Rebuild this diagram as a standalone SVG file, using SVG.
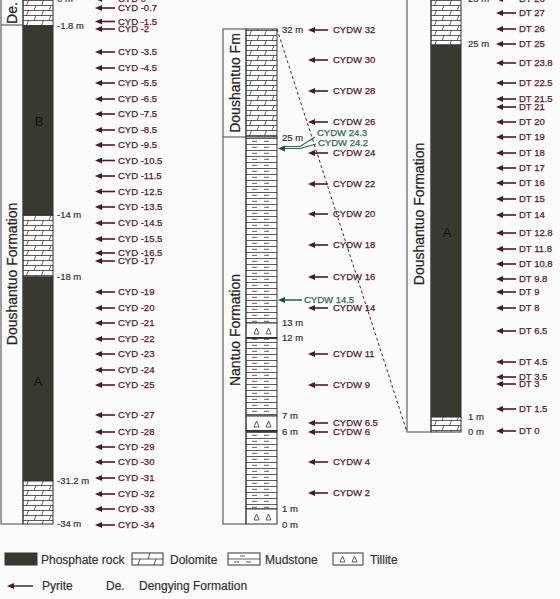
<svg xmlns="http://www.w3.org/2000/svg" width="560" height="599" viewBox="0 0 560 599">
<style>
.lbl{font-family:"Liberation Sans",Arial,sans-serif;font-size:9.5px;fill:#55202c;stroke:#55202c;stroke-width:0.25px}
.grn{font-family:"Liberation Sans",Arial,sans-serif;font-size:9.5px;fill:#2f6a4c;stroke:#2f6a4c;stroke-width:0.25px}
.dep{font-family:"Liberation Sans",Arial,sans-serif;font-size:9.5px;fill:#333;stroke:#333;stroke-width:0.2px}
.fm{font-family:"Liberation Sans",Arial,sans-serif;font-size:14px;fill:#222;stroke:#222;stroke-width:0.2px}
.unit{font-family:"Liberation Sans",Arial,sans-serif;font-size:13px;fill:#151512}
.leg{font-family:"Liberation Sans",Arial,sans-serif;font-size:12px;fill:#333;stroke:#333;stroke-width:0.2px}
.box{fill:none;stroke:#444;stroke-width:1}
.ph{fill:#3a3930;stroke:#333;stroke-width:1}
.dol{fill:url(#dolo);stroke:#333;stroke-width:1}
.mud{fill:url(#mud);stroke:#333;stroke-width:1}
.til{fill:#fff;stroke:#333;stroke-width:1}
.ar line{stroke:#4a1a26;stroke-width:1.6;marker-end:url(#ah)}
.tri{fill:none;stroke:#333;stroke-width:0.8}
</style>
<defs>
<pattern id="dolo" patternUnits="userSpaceOnUse" width="15" height="10">
<rect width="15" height="10" fill="#fff"/>
<path d="M0,0.5H15M0,5.5H15M3.5,5.5L5.5,0.5M11,10.5L13,5.5" stroke="#333" stroke-width="0.8" fill="none"/>
</pattern>
<pattern id="mud" patternUnits="userSpaceOnUse" width="31" height="6">
<rect width="31" height="6" fill="#fff"/>
<path d="M0,0.5H31M6,3.3H11M18,3.3H23" stroke="#333" stroke-width="0.8" fill="none"/>
</pattern>
<marker id="ah" markerUnits="userSpaceOnUse" markerWidth="7" markerHeight="6" viewBox="0 0 7 6" refX="1" refY="3" orient="auto">
<path d="M0,0L7,3L0,6z" fill="#4a1a26"/>
</marker>
<marker id="ahg" markerUnits="userSpaceOnUse" markerWidth="7" markerHeight="6" viewBox="0 0 7 6" refX="1" refY="3" orient="auto">
<path d="M0,0L7,3L0,6z" fill="#1f4d36"/>
</marker>
</defs>
<rect width="560" height="599" fill="#fbfbfb"/>

<g id="left-section">
<g transform="translate(23,0)">
<rect class="dol" x="0" y="-5" width="30" height="31"/>
<rect class="ph" x="0" y="26" width="30" height="189"/>
<rect class="dol" x="0" y="215" width="30" height="62"/>
<rect class="ph" x="0" y="277" width="30" height="204"/>
<rect class="dol" x="0" y="481" width="30" height="43"/>
</g>
<rect class="box" x="1" y="-5" width="22" height="529"/>
<line x1="1" y1="25" x2="23" y2="25" stroke="#444"/>
<text class="fm" transform="translate(17,13) rotate(-90)" text-anchor="middle">De.</text>
<text class="fm" transform="translate(17,274) rotate(-90)" text-anchor="middle">Doushantuo Formation</text>
<text class="unit" x="39" y="126" text-anchor="middle">B</text>
<text class="unit" x="38" y="386" text-anchor="middle">A</text>
<g class="dep">
<text x="57" y="2.4">0 m</text>
<text x="57" y="29.4">-1.8 m</text>
<text x="57" y="218.4">-14 m</text>
<text x="57" y="280.4">-18 m</text>
<text x="57" y="484.4">-31.2 m</text>
<text x="57" y="527.4">-34 m</text>
</g>
</g>

<g id="middle-section">
<g transform="translate(246,0)">
<rect class="dol" x="0" y="29" width="31" height="108"/>
<rect class="mud" x="0" y="137" width="31" height="186"/>
<rect class="til" x="0" y="323" width="31" height="15"/>
<rect class="mud" x="0" y="338" width="31" height="78"/>
<rect class="til" x="0" y="416" width="31" height="15"/>
<rect class="mud" x="0" y="431" width="31" height="78"/>
<rect class="til" x="0" y="509" width="31" height="15"/>
<line x1="0" y1="338" x2="31" y2="338" stroke="#222" stroke-width="1.6"/>
<line x1="0" y1="431" x2="31" y2="431" stroke="#222" stroke-width="1.6"/>
<path class="tri" d="M8,334L10.5,328L13,334zM20,334L22.5,328L25,334zM8,427L10.5,421L13,427zM20,427L22.5,421L25,427zM8,520L10.5,514L13,520zM20,520L22.5,514L25,520z"/>
</g>
<rect class="box" x="223" y="29" width="23" height="495"/>
<line x1="223" y1="137" x2="246" y2="137" stroke="#444"/>
<text class="fm" transform="translate(240,83) rotate(-90)" text-anchor="middle">Doushantuo Fm</text>
<text class="fm" transform="translate(240,330) rotate(-90)" text-anchor="middle">Nantuo Formation</text>
<g class="dep">
<text x="282" y="33.4">32 m</text>
<text x="282" y="141.4">25 m</text>
<text x="282" y="326.4">13 m</text>
<text x="282" y="341.4">12 m</text>
<text x="282" y="419.4">7 m</text>
<text x="282" y="435.4">6 m</text>
<text x="282" y="512.4">1 m</text>
<text x="282" y="528.4">0 m</text>
</g>
</g>

<g id="right-section">
<g transform="translate(431,0)">
<rect class="dol" x="0" y="-5" width="30" height="50"/>
<rect class="ph" x="0" y="45" width="30" height="372"/>
<rect class="dol" x="0" y="417" width="30" height="15"/>
</g>
<rect class="box" x="407" y="-5" width="24" height="437"/>
<text class="fm" transform="translate(424,214) rotate(-90)" text-anchor="middle">Doushantuo Formation</text>
<text class="unit" x="447" y="237" text-anchor="middle">A</text>
<g class="dep">
<text x="468" y="2.4">28 m</text>
<text x="468" y="47.4">25 m</text>
<text x="468" y="420.4">1 m</text>
<text x="468" y="435.4">0 m</text>
</g>
</g>

<g id="connectors">
<line x1="277" y1="29" x2="407" y2="432" stroke="#333" stroke-width="1" stroke-dasharray="3,2.5"/>
<g class="ar">
<line x1="115" y1="-1" x2="101" y2="-1"/><line x1="115" y1="8" x2="101" y2="8"/><line x1="115" y1="21.5" x2="101" y2="21.5"/><line x1="115" y1="29" x2="101" y2="29"/>
<line x1="115" y1="52" x2="101" y2="52"/><line x1="115" y1="68" x2="101" y2="68"/><line x1="115" y1="83" x2="101" y2="83"/><line x1="115" y1="99" x2="101" y2="99"/>
<line x1="115" y1="114" x2="101" y2="114"/><line x1="115" y1="130" x2="101" y2="130"/><line x1="115" y1="145" x2="101" y2="145"/><line x1="115" y1="160.5" x2="101" y2="160.5"/>
<line x1="115" y1="176" x2="101" y2="176"/><line x1="115" y1="191.5" x2="101" y2="191.5"/><line x1="115" y1="207" x2="101" y2="207"/><line x1="115" y1="223" x2="101" y2="223"/>
<line x1="115" y1="239" x2="101" y2="239"/><line x1="115" y1="253" x2="101" y2="253"/><line x1="115" y1="261" x2="101" y2="261"/><line x1="115" y1="292" x2="101" y2="292"/>
<line x1="115" y1="308" x2="101" y2="308"/><line x1="115" y1="323" x2="101" y2="323"/><line x1="115" y1="339" x2="101" y2="339"/><line x1="115" y1="354" x2="101" y2="354"/>
<line x1="115" y1="370" x2="101" y2="370"/><line x1="115" y1="385" x2="101" y2="385"/><line x1="115" y1="415" x2="101" y2="415"/><line x1="115" y1="432" x2="101" y2="432"/>
<line x1="115" y1="447" x2="101" y2="447"/><line x1="115" y1="462" x2="101" y2="462"/><line x1="115" y1="478" x2="101" y2="478"/><line x1="115" y1="494" x2="101" y2="494"/>
<line x1="115" y1="509" x2="101" y2="509"/><line x1="115" y1="525" x2="101" y2="525"/>

<line x1="328" y1="30" x2="314" y2="30"/><line x1="328" y1="60" x2="314" y2="60"/><line x1="328" y1="91" x2="314" y2="91"/><line x1="328" y1="122" x2="314" y2="122"/>
<line x1="328" y1="153" x2="314" y2="153"/><line x1="328" y1="184" x2="314" y2="184"/><line x1="328" y1="214" x2="314" y2="214"/><line x1="328" y1="245" x2="314" y2="245"/>
<line x1="328" y1="277" x2="314" y2="277"/><line x1="328" y1="308" x2="314" y2="308"/><line x1="328" y1="354" x2="314" y2="354"/><line x1="328" y1="385" x2="314" y2="385"/>
<line x1="328" y1="423" x2="314" y2="423"/><line x1="328" y1="432" x2="314" y2="432"/><line x1="328" y1="462" x2="314" y2="462"/><line x1="328" y1="493" x2="314" y2="493"/>

<line x1="516" y1="-1" x2="502" y2="-1"/><line x1="516" y1="13" x2="502" y2="13"/><line x1="516" y1="29" x2="502" y2="29"/><line x1="516" y1="44" x2="502" y2="44"/>
<line x1="516" y1="63" x2="502" y2="63"/><line x1="516" y1="83" x2="502" y2="83"/><line x1="516" y1="99" x2="502" y2="99"/><line x1="516" y1="107" x2="502" y2="107"/>
<line x1="516" y1="122" x2="502" y2="122"/><line x1="516" y1="137" x2="502" y2="137"/><line x1="516" y1="153" x2="502" y2="153"/><line x1="516" y1="168" x2="502" y2="168"/>
<line x1="516" y1="183" x2="502" y2="183"/><line x1="516" y1="199" x2="502" y2="199"/><line x1="516" y1="215" x2="502" y2="215"/><line x1="516" y1="233" x2="502" y2="233"/>
<line x1="516" y1="249" x2="502" y2="249"/><line x1="516" y1="264" x2="502" y2="264"/><line x1="516" y1="279" x2="502" y2="279"/><line x1="516" y1="292" x2="502" y2="292"/>
<line x1="516" y1="308" x2="502" y2="308"/><line x1="516" y1="331" x2="502" y2="331"/><line x1="516" y1="362" x2="502" y2="362"/><line x1="516" y1="377" x2="502" y2="377"/>
<line x1="516" y1="384" x2="502" y2="384"/><line x1="516" y1="409" x2="502" y2="409"/><line x1="516" y1="431" x2="502" y2="431"/>
</g>
<g fill="none" stroke="#2f6a4c" stroke-width="1.2">
<path d="M315,137L300,146.5H284"/>
<path d="M316,144L300,148.5H284" marker-end="url(#ahg)"/>
<path d="M302,300H284" stroke-width="1.6" marker-end="url(#ahg)"/>
</g>
</g>

<g id="labels">
<g class="lbl">
<text x="118" y="2.4">CYD 0</text><text x="118" y="11.4">CYD -0.7</text><text x="118" y="24.9">CYD -1.5</text><text x="118" y="32.4">CYD -2</text>
<text x="118" y="55.4">CYD -3.5</text><text x="118" y="71.4">CYD -4.5</text><text x="118" y="86.4">CYD -5.5</text><text x="118" y="102.4">CYD -6.5</text>
<text x="118" y="117.4">CYD -7.5</text><text x="118" y="133.4">CYD -8.5</text><text x="118" y="148.4">CYD -9.5</text><text x="118" y="163.9">CYD -10.5</text>
<text x="118" y="179.4">CYD -11.5</text><text x="118" y="194.9">CYD -12.5</text><text x="118" y="210.4">CYD -13.5</text><text x="118" y="226.4">CYD -14.5</text>
<text x="118" y="242.4">CYD -15.5</text><text x="118" y="256.4">CYD -16.5</text><text x="118" y="264.4">CYD -17</text><text x="118" y="295.4">CYD -19</text>
<text x="118" y="311.4">CYD -20</text><text x="118" y="326.4">CYD -21</text><text x="118" y="342.4">CYD -22</text><text x="118" y="357.4">CYD -23</text>
<text x="118" y="373.4">CYD -24</text><text x="118" y="388.4">CYD -25</text><text x="118" y="418.4">CYD -27</text><text x="118" y="435.4">CYD -28</text>
<text x="118" y="450.4">CYD -29</text><text x="118" y="465.4">CYD -30</text><text x="118" y="481.4">CYD -31</text><text x="118" y="497.4">CYD -32</text>
<text x="118" y="512.4">CYD -33</text><text x="118" y="528.4">CYD -34</text>

<text x="333" y="33.4">CYDW 32</text><text x="333" y="63.4">CYDW 30</text><text x="333" y="94.4">CYDW 28</text><text x="333" y="125.4">CYDW 26</text>
<text x="333" y="156.4">CYDW 24</text><text x="333" y="187.4">CYDW 22</text><text x="333" y="217.4">CYDW 20</text><text x="333" y="248.4">CYDW 18</text>
<text x="333" y="280.4">CYDW 16</text><text x="333" y="311.4">CYDW 14</text><text x="333" y="357.4">CYDW 11</text><text x="333" y="388.4">CYDW 9</text>
<text x="333" y="426.4">CYDW 6.5</text><text x="333" y="435.4">CYDW 6</text><text x="333" y="465.4">CYDW 4</text><text x="333" y="496.4">CYDW 2</text>

<text x="519" y="2.4">DT 28</text><text x="519" y="16.4">DT 27</text><text x="519" y="32.4">DT 26</text><text x="519" y="47.4">DT 25</text>
<text x="519" y="66.4">DT 23.8</text><text x="519" y="86.4">DT 22.5</text><text x="519" y="102.4">DT 21.5</text><text x="519" y="110.4">DT 21</text>
<text x="519" y="125.4">DT 20</text><text x="519" y="140.4">DT 19</text><text x="519" y="156.4">DT 18</text><text x="519" y="171.4">DT 17</text>
<text x="519" y="186.4">DT 16</text><text x="519" y="202.4">DT 15</text><text x="519" y="218.4">DT 14</text><text x="519" y="236.4">DT 12.8</text>
<text x="519" y="252.4">DT 11.8</text><text x="519" y="267.4">DT 10.8</text><text x="519" y="282.4">DT 9.8</text><text x="519" y="295.4">DT 9</text>
<text x="519" y="311.4">DT 8</text><text x="519" y="334.4">DT 6.5</text><text x="519" y="365.4">DT 4.5</text><text x="519" y="380.4">DT 3.5</text>
<text x="519" y="387.4">DT 3</text><text x="519" y="412.4">DT 1.5</text><text x="519" y="434.4">DT 0</text>
</g>
<g class="grn">
<text x="317" y="136.4">CYDW 24.3</text>
<text x="318" y="146.4">CYDW 24.2</text>
<text x="304" y="303.4">CYDW 14.5</text>
</g>
</g>

<g id="legend">
<rect x="5" y="553" width="32" height="12" fill="#3a3930" stroke="#333"/>
<text class="leg" x="41" y="564">Phosphate rock</text>
<g transform="translate(132,553)">
<rect x="0" y="0" width="31" height="12" fill="#fff" stroke="#333"/>
<path d="M0,6H31M6,12L8,6M16,6L18,0M22,12L24,6" stroke="#333" stroke-width="0.8" fill="none"/>
</g>
<text class="leg" x="170" y="564">Dolomite</text>
<g transform="translate(228,553)">
<rect x="0" y="0" width="32" height="12" fill="#fff" stroke="#333"/>
<path d="M0,6H32M12,3H17M6,9H11M18,9H23" stroke="#333" stroke-width="0.8" fill="none"/>
</g>
<text class="leg" x="265" y="564">Mudstone</text>
<rect x="333" y="553" width="30" height="12" fill="#fff" stroke="#333"/>
<path class="tri" d="M340,562L342.5,556L345,562zM352,562L354.5,556L357,562z"/>
<text class="leg" x="370" y="564">Tillite</text>
<line x1="33" y1="586" x2="13" y2="586" stroke="#222" stroke-width="1.4" marker-end="url(#ah)"/>
<text class="leg" x="42" y="590">Pyrite</text>
<text class="leg" x="106" y="590">De.</text>
<text class="leg" x="139" y="590">Dengying Formation</text>
</g>
</svg>
